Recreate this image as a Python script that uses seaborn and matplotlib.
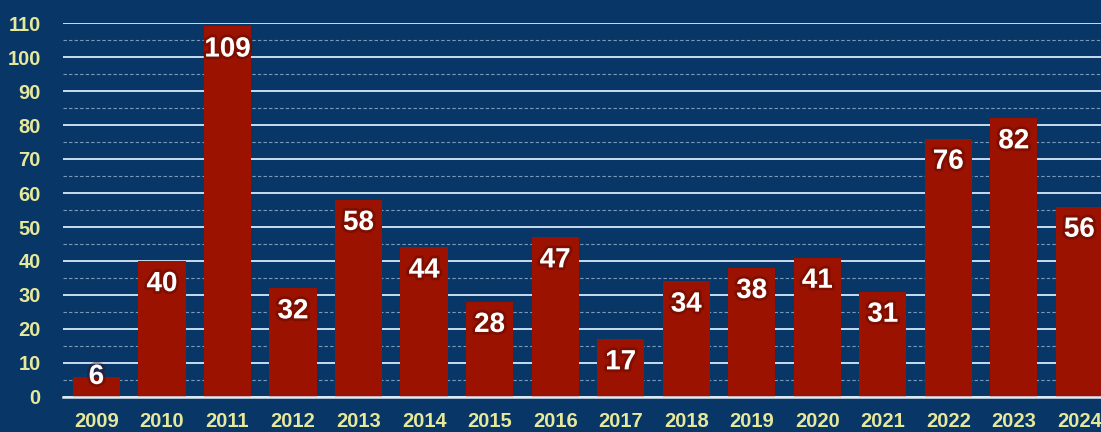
import matplotlib
matplotlib.use("Agg")
import matplotlib.pyplot as plt
import matplotlib.patheffects as pe
from matplotlib.ticker import MultipleLocator
import seaborn as sns
import pandas as pd

years = ["2009", "2010", "2011", "2012", "2013", "2014", "2015", "2016",
         "2017", "2018", "2019", "2020", "2021", "2022", "2023", "2024"]
counts = [6, 40, 109, 32, 58, 44, 28, 47, 17, 34, 38, 41, 31, 76, 82, 56]

bg = "#083767"
bar_col = "#9b1200"
tick_col = "#e6e89a"
grid_col = "#c9dcef"

sns.set_style("white")
plt.rcParams['font.family'] = ['Liberation Sans', 'DejaVu Sans']

df = pd.DataFrame({"year": years, "count": counts})

fig = plt.figure(figsize=(11.01, 4.32), dpi=100)
fig.patch.set_facecolor(bg)
ax = fig.add_axes([63 / 1101, 35 / 432, 1 - 63 / 1101, (397 - 23) / 432])
ax.set_facecolor(bg)

sns.barplot(data=df, x="year", y="count", color=bar_col, saturation=1,
            width=0.72, ax=ax, zorder=3, linewidth=0, edgecolor=bar_col)

ax.set_xlim(-0.51, 15.33)
ax.set_ylim(0, 110)
ax.yaxis.set_major_locator(MultipleLocator(10))
ax.yaxis.set_minor_locator(MultipleLocator(5))
ax.grid(which="major", axis="y", color=grid_col, lw=1.4, ls="-", zorder=1)
ax.grid(which="minor", axis="y", color=grid_col, lw=0.8, ls=(0, (3, 2)), alpha=0.6, zorder=1)
ax.set_axisbelow(True)

for s in ["top", "right", "left"]:
    ax.spines[s].set_visible(False)
ax.spines["bottom"].set_color("#dfeaf5")
ax.spines["bottom"].set_linewidth(1.8)
ax.spines["bottom"].set_zorder(4)

ax.tick_params(axis="both", which="both", length=0, colors=tick_col, labelsize=14.5)
ax.tick_params(axis="y", pad=16)
ax.tick_params(axis="x", pad=11)
for lab in ax.get_xticklabels() + ax.get_yticklabels():
    lab.set_fontweight("bold")
ax.set_xlabel("")
ax.set_ylabel("")

for i, v in enumerate(counts):
    ax.text(i, max(v - 6.8, 5.9), str(v), ha="center", va="center",
            color="white", fontsize=20, fontweight="bold", zorder=5,
            path_effects=[pe.withStroke(linewidth=4, foreground="#4a0800", alpha=0.35)])

fig.savefig("out.png", dpi=100, facecolor=bg)
